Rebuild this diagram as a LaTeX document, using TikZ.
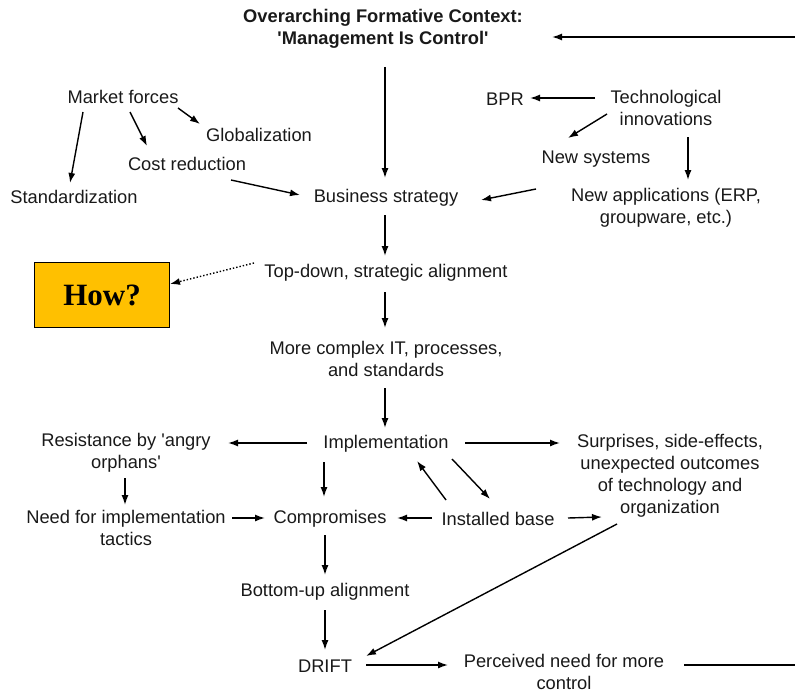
\documentclass[tikz,border=0pt]{standalone}
\usepackage{fontspec}
\setmainfont{Liberation Sans}
\newfontfamily\howfont{Liberation Serif}
\usetikzlibrary{arrows.meta}
\definecolor{howorange}{HTML}{FFC000}
\newcommand{\sq}{\textquotesingle}
\tikzset{
  lbl/.style={font=\fontsize{18.3}{22}\selectfont,align=center,inner sep=1pt,text=black!90},
  arr/.style={line width=1.4pt,-{Latex[length=10pt,width=7pt]}},
  howbox/.style={draw,line width=1.5pt,fill=howorange,minimum width=135pt,minimum height=65pt,font=\howfont\fontsize{31}{34}\selectfont\bfseries}
}
\begin{document}
\begin{tikzpicture}[x=1pt,y=-1pt]
	\useasboundingbox (0,0) rectangle (795,693);
	% top
	\node[lbl,font=\fontsize{18.3}{22}\selectfont\bfseries] (title) at (383,29){Overarching Formative Context:\\\sq Management Is Control\sq};
	\node[lbl] (mf) at (123,97){Market forces};
	\node[lbl] (glob) at (259,135){Globalization};
	\node[lbl] (cost) at (187,164){Cost reduction};
	\node[lbl] (std) at (74,197){Standardization};
	\node[lbl] (bs) at (386,198){Business strategy};
	\node[lbl] (bpr) at (505,99){BPR};
	\node[lbl] (tech) at (666,108){Technological\\innovations};
	\node[lbl] (newsys) at (596,159){New systems};
	\node[lbl] (newapp) at (666,208){New applications (ERP,\\groupware, etc.)};
	% middle
	\node[lbl] (td) at (386,273){Top-down, strategic alignment};
	\node[howbox] (how) at (102,295){How?};
	\node[lbl] (mc) at (386,359){More complex IT, processes,\\and standards};
	\node[lbl] (impl) at (386,444){Implementation};
	\node[lbl] (res) at (126,453){Resistance by \sq angry\\orphans\sq};
	\node[lbl] (need) at (126,528){Need for implementation\\tactics};
	\node[lbl] (comp) at (330,519){Compromises};
	\node[lbl] (inst) at (498,519){Installed base};
	\node[lbl] (surp) at (670,476){Surprises, side-effects,\\unexpected outcomes\\of technology and\\organization};
	% bottom
	\node[lbl] (bu) at (325,592){Bottom-up alignment};
	\node[lbl] (drift) at (325,666){DRIFT};
	\node[lbl] (perc) at (564,672){Perceived need for more\\control};
	\coordinate (edgetop) at (795,37);
	\coordinate (edgebot) at (795,665);

	\draw[arr] ([shift={(-40,15)}]mf.center) -- ([shift={(-4,-14)}]std.center);
	\draw[arr] ([shift={(7,15)}]mf.center) -- ([shift={(-40,-18)}]cost.center);
	\draw[arr] ([shift={(55,11)}]mf.center) -- ([shift={(-59,-11)}]glob.center);
	\draw[arr] ([shift={(44,16)}]cost.center) -- ([shift={(-86,-3)}]bs.center);
	\draw[arr] ([shift={(-71,-10)}]tech.center) -- ([shift={(25,-1)}]bpr.center);
	\draw[arr] ([shift={(-59,6)}]tech.center) -- ([shift={(-28,-21)}]newsys.center);
	\draw[arr] ([shift={(22,29)}]tech.center) -- ([shift={(22,-28)}]newapp.center);
	\draw[arr] ([shift={(-130,-19)}]newapp.center) -- ([shift={(95,2)}]bs.center);
	\draw[arr] ([shift={(2,38)}]title.center) -- ([shift={(-1,-20)}]bs.center);
	\draw[arr] ([shift={(-1,17)}]bs.center) -- ([shift={(-1,-17)}]td.center);
	\draw[arr,dotted] ([shift={(-132,-10)}]td.center) -- ([shift={(68,-11)}]how.center);
	\draw[arr] ([shift={(-1,19)}]td.center) -- ([shift={(-1,-31)}]mc.center);
	\draw[arr] ([shift={(-1,29)}]mc.center) -- ([shift={(-1,-16)}]impl.center);
	\draw[arr] ([shift={(-79,-1)}]impl.center) -- ([shift={(102,-10)}]res.center);
	\draw[arr] ([shift={(-1,25)}]res.center) -- ([shift={(-1,-23)}]need.center);
	\draw[arr] ([shift={(106,-10)}]need.center) -- ([shift={(-65,-1)}]comp.center);
	\draw[arr] ([shift={(-62,18)}]impl.center) -- ([shift={(-6,-22)}]comp.center);
	\draw[arr] ([shift={(-66,-1)}]inst.center) -- ([shift={(67,-1)}]comp.center);
	\draw[arr] ([shift={(-52,-19)}]inst.center) -- ([shift={(31,17)}]impl.center);
	\draw[arr] ([shift={(66,15)}]impl.center) -- ([shift={(-8,-20)}]inst.center);
	\draw[arr] ([shift={(79,-1)}]impl.center) -- ([shift={(-110,-33)}]surp.center);
	\draw[arr] ([shift={(70,-1)}]inst.center) -- ([shift={(-68,41)}]surp.center);
	\draw[arr] ([shift={(-53,48)}]surp.center) -- ([shift={(41,-10)}]drift.center);
	\draw[arr] ([shift={(-5,16)}]comp.center) -- ([shift={(0,-17)}]bu.center);
	\draw[arr] ([shift={(0,18)}]bu.center) -- ([shift={(0,-16)}]drift.center);
	\draw[arr] ([shift={(41,-1)}]drift.center) -- ([shift={(-116,-7)}]perc.center);
	\draw[line width=1.4pt] ([shift={(120,-7)}]perc.center) -- (edgebot);
	\draw[arr] (edgetop) -- ([shift={(169,8)}]title.center);
\end{tikzpicture}
\end{document}
